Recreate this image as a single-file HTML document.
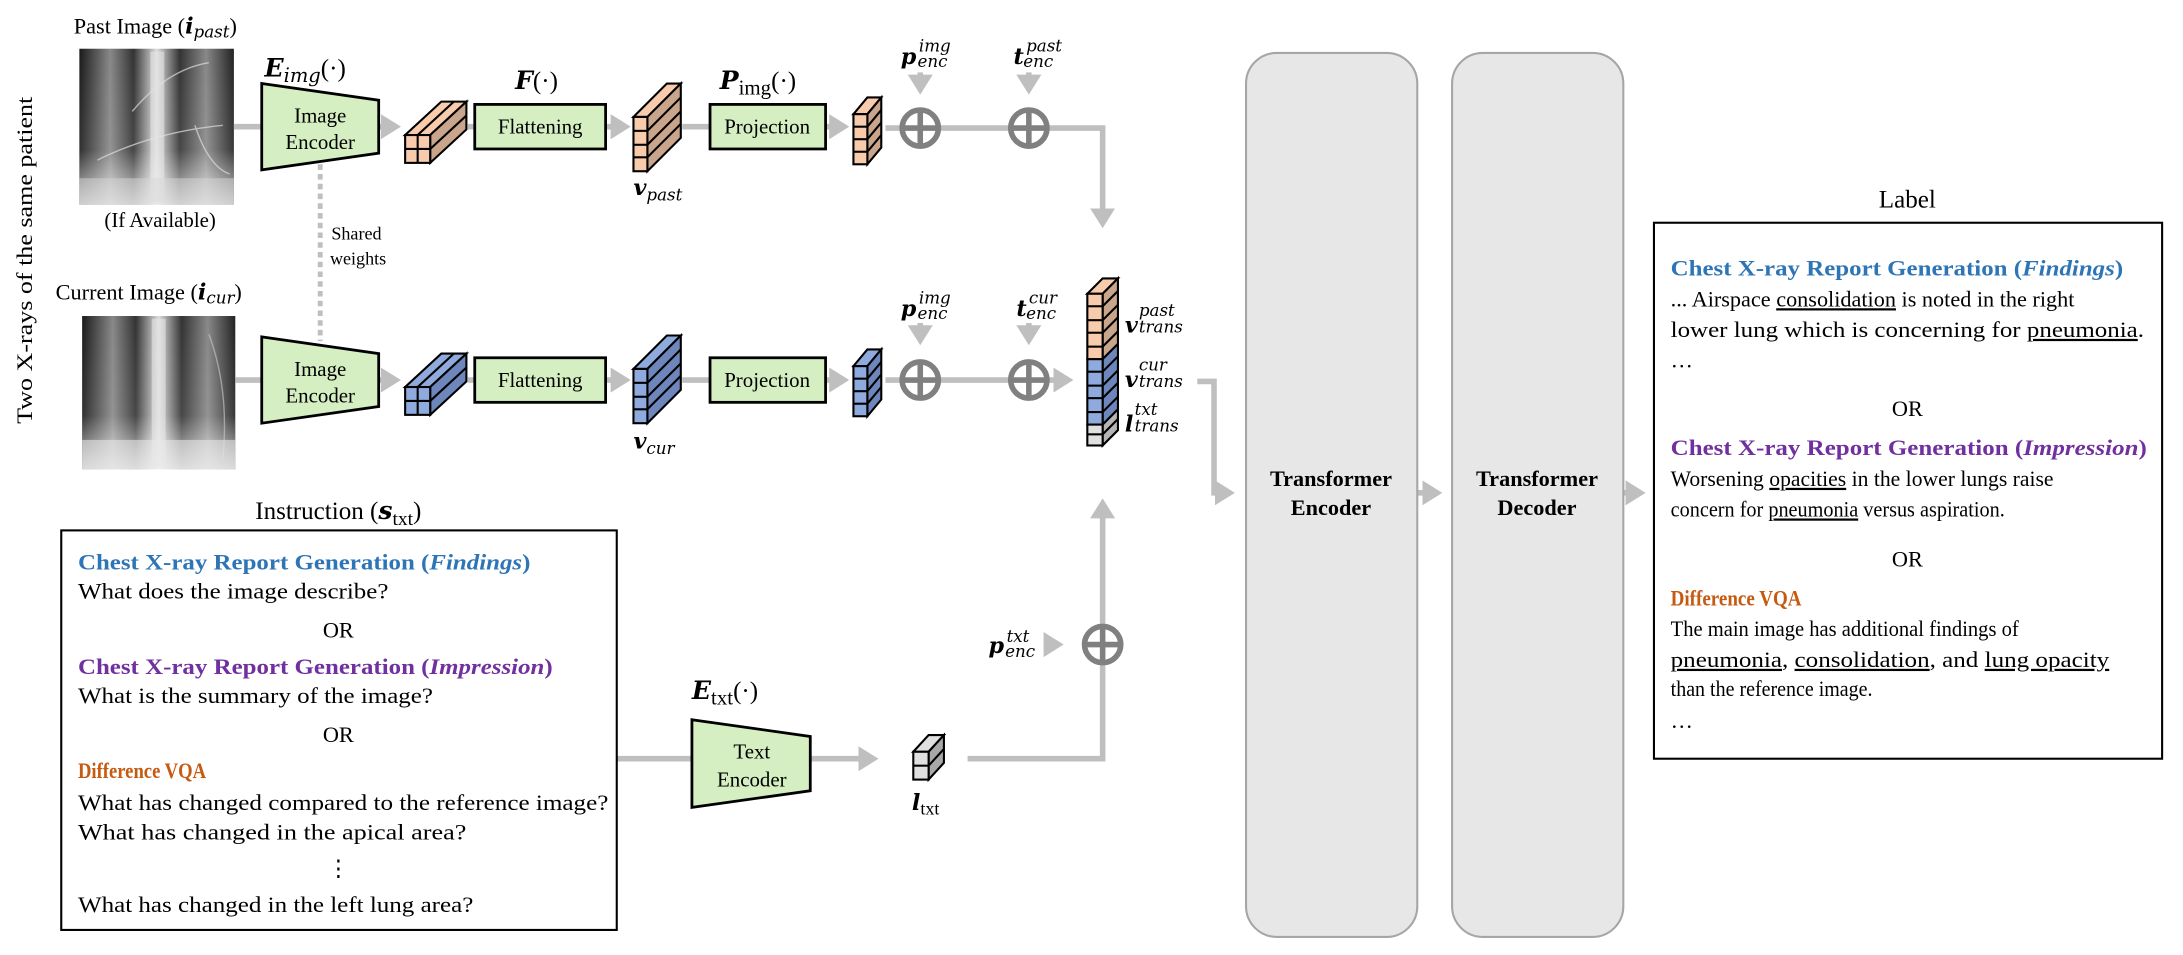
<!DOCTYPE html>
<html><head><meta charset="utf-8">
<style>
html,body{margin:0;padding:0;background:#fff;}
svg{display:block;}
svg, svg text{font-family:"Liberation Serif","Times New Roman","DejaVu Serif",serif;}
svg text.m{font-family:"DejaVu Serif","Liberation Serif",serif;font-style:italic;font-weight:bold;}
svg text.s, svg tspan.s{font-family:"DejaVu Serif","Liberation Serif",serif;font-style:italic;font-weight:normal;}
svg tspan.m{font-family:"DejaVu Serif","Liberation Serif",serif;font-style:italic;font-weight:bold;}
</style></head>
<body>
<svg width="2183" height="955" viewBox="0 0 1568 686" preserveAspectRatio="none" xmlns="http://www.w3.org/2000/svg" font-family="Liberation Serif, Times New Roman, serif">
<defs>
<linearGradient id="xh" x1="0" x2="1" y1="0" y2="0">
<stop offset="0" stop-color="#1a1a1a"/><stop offset="0.2" stop-color="#888"/><stop offset="0.35" stop-color="#333"/>
<stop offset="0.5" stop-color="#ddd"/><stop offset="0.65" stop-color="#333"/><stop offset="0.82" stop-color="#888"/><stop offset="1" stop-color="#222"/>
</linearGradient>
<linearGradient id="xv" x1="0" x2="0" y1="0" y2="1">
<stop offset="0" stop-color="#fff" stop-opacity="0"/><stop offset="0.65" stop-color="#fff" stop-opacity="0.1"/><stop offset="1" stop-color="#fff" stop-opacity="0.75"/>
</linearGradient>
<marker id="ar" markerWidth="5" markerHeight="5" refX="2.6" refY="2.25" orient="auto" markerUnits="strokeWidth">
<path d="M0,0 L3.6,2.25 L0,4.5 z" fill="#bfbfbf"/></marker>
</defs>

<text x="23" y="187" font-size="16" text-anchor="middle" transform="rotate(-90 23 187)" textLength="235" lengthAdjust="spacingAndGlyphs">Two X-rays of the same patient</text>

<text x="53" y="24" font-size="16">Past Image (<tspan class="m">i</tspan><tspan class="s" font-size="12" dy="3">past</tspan><tspan dy="-3">)</tspan></text>
<text x="115" y="163" font-size="15" text-anchor="middle">(If Available)</text>
<text x="40" y="215" font-size="16">Current Image (<tspan class="m">i</tspan><tspan class="s" font-size="12" dy="3">cur</tspan><tspan dy="-3">)</tspan></text>

<rect x="57" y="35" width="111" height="112" fill="url(#xh)"/>
<rect x="57" y="35" width="111" height="112" fill="url(#xv)"/>
<g stroke="#ddd" stroke-width="1" fill="none" opacity="0.7"><path d="M70,115 Q110,95 160,90"/><path d="M95,80 Q120,50 150,45"/><path d="M140,90 Q150,120 165,125"/></g>
<rect x="59" y="227" width="110" height="110" fill="url(#xh)"/>
<rect x="59" y="227" width="110" height="110" fill="url(#xv)"/>
<g stroke="#ccc" stroke-width="1" fill="none" opacity="0.6"><path d="M150,240 Q165,280 160,330"/></g>
<rect x="108" y="37" width="10" height="108" fill="#e6e6e6" opacity="0.6"/>
<rect x="109" y="229" width="10" height="106" fill="#e6e6e6" opacity="0.6"/>
<rect x="57" y="128" width="111" height="19" fill="#d8d8d8" opacity="0.5"/>
<rect x="59" y="316" width="110" height="21" fill="#e8e8e8" opacity="0.6"/>

<g stroke="#bfbfbf" stroke-width="4" fill="none">
<line x1="168" y1="91" x2="188" y2="91"/>
<line x1="272" y1="91" x2="284" y2="91" marker-end="url(#ar)"/>
<line x1="336" y1="91" x2="341" y2="91"/>
<line x1="435" y1="91" x2="449" y2="91" marker-end="url(#ar)"/>
<line x1="490" y1="91" x2="510" y2="91"/>
<line x1="593" y1="91" x2="606" y2="91" marker-end="url(#ar)"/>
<polyline points="636,92 792,92 792,160" marker-end="url(#ar)"/>
<line x1="661" y1="52" x2="661" y2="64" marker-end="url(#ar)"/>
<line x1="739" y1="52" x2="739" y2="64" marker-end="url(#ar)"/>

<line x1="169" y1="273" x2="188" y2="273"/>
<line x1="272" y1="273" x2="284" y2="273" marker-end="url(#ar)"/>
<line x1="336" y1="273" x2="341" y2="273"/>
<line x1="435" y1="273" x2="449" y2="273" marker-end="url(#ar)"/>
<line x1="490" y1="273" x2="510" y2="273"/>
<line x1="593" y1="273" x2="606" y2="273" marker-end="url(#ar)"/>
<line x1="636" y1="273" x2="767" y2="273" marker-end="url(#ar)"/>
<line x1="661" y1="232" x2="661" y2="244" marker-end="url(#ar)"/>
<line x1="739" y1="232" x2="739" y2="244" marker-end="url(#ar)"/>

<polyline points="860,274 872,274 872,354 883,354" marker-end="url(#ar)"/>
<line x1="1018" y1="354" x2="1032" y2="354" marker-end="url(#ar)"/>
<line x1="1166" y1="354" x2="1178" y2="354" marker-end="url(#ar)"/>

<line x1="443" y1="545" x2="497" y2="545"/>
<line x1="582" y1="545" x2="627" y2="545" marker-end="url(#ar)"/>
<polyline points="695,545 792,545 792,362" marker-end="url(#ar)"/>
<line x1="752" y1="463" x2="760" y2="463" marker-end="url(#ar)"/>
</g>
<line x1="230" y1="118" x2="230" y2="245" stroke="#bfbfbf" stroke-width="3.5" stroke-dasharray="4,3"/>
<text x="238" y="172" font-size="13">Shared</text>
<text x="237" y="190" font-size="13">weights</text>

<g stroke="#808080" stroke-width="4" fill="#fff">
<circle cx="661" cy="92" r="13"/><circle cx="739" cy="92" r="13"/>
<circle cx="661" cy="273" r="13"/><circle cx="739" cy="273" r="13"/>
<circle cx="792" cy="463" r="13"/>
</g>
<g stroke="#808080" stroke-width="4">
<line x1="661" y1="79" x2="661" y2="105"/><line x1="648" y1="92" x2="674" y2="92"/>
<line x1="739" y1="79" x2="739" y2="105"/><line x1="726" y1="92" x2="752" y2="92"/>
<line x1="661" y1="260" x2="661" y2="286"/><line x1="648" y1="273" x2="674" y2="273"/>
<line x1="739" y1="260" x2="739" y2="286"/><line x1="726" y1="273" x2="752" y2="273"/>
<line x1="792" y1="450" x2="792" y2="476"/><line x1="779" y1="463" x2="805" y2="463"/>
</g>

<g fill="#d5efc3" stroke="#000" stroke-width="2">
<polygon points="188,60 272,72 272,110 188,122"/>
<polygon points="188,242 272,254 272,292 188,304"/>
<polygon points="497,517 582,529 582,568 497,580"/>
<rect x="341" y="75" width="94" height="32"/>
<rect x="510" y="75" width="83" height="32"/>
<rect x="341" y="257" width="94" height="32"/>
<rect x="510" y="257" width="83" height="32"/>
</g>
<g font-size="15" text-anchor="middle">
<text x="230" y="88">Image</text><text x="230" y="107">Encoder</text>
<text x="230" y="270">Image</text><text x="230" y="289">Encoder</text>
<text x="540" y="545">Text</text><text x="540" y="565">Encoder</text>
<text x="388" y="96">Flattening</text><text x="551" y="96">Projection</text>
<text x="388" y="278">Flattening</text><text x="551" y="278">Projection</text>
</g>

<text x="190" y="55" font-size="18"><tspan class="m">E</tspan><tspan class="s" font-size="14" dy="4">img</tspan><tspan dy="-4">(·)</tspan></text>
<text x="370" y="64" font-size="18"><tspan class="m">F</tspan>(·)</text>
<text x="517" y="64" font-size="18"><tspan class="m">P</tspan><tspan font-size="15" dy="4">img</tspan><tspan dy="-4">(·)</tspan></text>
<text x="455" y="140" font-size="16"><tspan class="m">v</tspan><tspan class="s" font-size="12" dy="4">past</tspan></text>
<text x="455" y="322" font-size="16"><tspan class="m">v</tspan><tspan class="s" font-size="12" dy="4">cur</tspan></text>
<text x="497" y="502" font-size="18"><tspan class="m">E</tspan><tspan font-size="15" dy="4">txt</tspan><tspan dy="-4">(·)</tspan></text>
<text x="655" y="582" font-size="16"><tspan class="m">l</tspan><tspan font-size="13" dy="3">txt</tspan></text>

<g font-size="16">
<text x="647" y="46" class="m">p</text><text x="660" y="37" class="s" font-size="12">img</text><text x="659" y="48" class="s" font-size="12">enc</text>
<text x="728" y="46" class="m">t</text><text x="737" y="37" class="s" font-size="12">past</text><text x="735" y="48" class="s" font-size="12">enc</text>
<text x="647" y="227" class="m">p</text><text x="660" y="218" class="s" font-size="12">img</text><text x="659" y="229" class="s" font-size="12">enc</text>
<text x="730" y="227" class="m">t</text><text x="739" y="218" class="s" font-size="12">cur</text><text x="737" y="229" class="s" font-size="12">enc</text>
<text x="710" y="469" class="m">p</text><text x="723" y="461" class="s" font-size="12">txt</text><text x="722" y="472" class="s" font-size="12">enc</text>
<text x="808" y="239" class="m">v</text><text x="818" y="227" class="s" font-size="12">past</text><text x="818" y="239" class="s" font-size="12">trans</text>
<text x="808" y="278" class="m">v</text><text x="818" y="266" class="s" font-size="12">cur</text><text x="818" y="278" class="s" font-size="12">trans</text>
<text x="808" y="310" class="m">l</text><text x="815" y="298" class="s" font-size="12">txt</text><text x="815" y="310" class="s" font-size="12">trans</text>
</g>

<g stroke="#000" stroke-width="1.5">
<polygon points="291,97 317,73 335,73 309,97" fill="#f8cbad"/>
<polygon points="309,97 335,73 335,93 309,117" fill="#c9a58c"/>
<rect x="291" y="97" width="18" height="20" fill="#f8cbad"/>
<line x1="300" y1="97" x2="300" y2="117"/><line x1="291" y1="107" x2="309" y2="107"/>
<line x1="300" y1="97" x2="326" y2="73"/><line x1="309" y1="107" x2="335" y2="83"/>
<polygon points="291,278 317,254 335,254 309,278" fill="#8faadc"/>
<polygon points="309,278 335,254 335,274 309,298" fill="#6d86bb"/>
<rect x="291" y="278" width="18" height="20" fill="#8faadc"/>
<line x1="300" y1="278" x2="300" y2="298"/><line x1="291" y1="288" x2="309" y2="288"/>
<line x1="300" y1="278" x2="326" y2="254"/><line x1="309" y1="288" x2="335" y2="264"/>

<polygon points="455,84 479,60 489,60 465,84" fill="#f8cbad"/>
<polygon points="465,84 489,60 489,99 465,123" fill="#c9a58c"/>
<rect x="455" y="84" width="10" height="39" fill="#f8cbad"/>
<line x1="455" y1="94" x2="465" y2="94"/><line x1="455" y1="104" x2="465" y2="104"/><line x1="455" y1="113" x2="465" y2="113"/>
<line x1="465" y1="94" x2="489" y2="70"/><line x1="465" y1="104" x2="489" y2="80"/><line x1="465" y1="113" x2="489" y2="89"/>
<polygon points="455,265 479,241 489,241 465,265" fill="#8faadc"/>
<polygon points="465,265 489,241 489,280 465,304" fill="#6d86bb"/>
<rect x="455" y="265" width="10" height="39" fill="#8faadc"/>
<line x1="455" y1="275" x2="465" y2="275"/><line x1="455" y1="285" x2="465" y2="285"/><line x1="455" y1="294" x2="465" y2="294"/>
<line x1="465" y1="275" x2="489" y2="251"/><line x1="465" y1="285" x2="489" y2="261"/><line x1="465" y1="294" x2="489" y2="270"/>

<polygon points="613,82 623,70 633,70 623,82" fill="#f8cbad"/>
<polygon points="623,82 633,70 633,106 623,118" fill="#c9a58c"/>
<rect x="613" y="82" width="10" height="36" fill="#f8cbad"/>
<line x1="613" y1="91" x2="623" y2="91"/><line x1="613" y1="100" x2="623" y2="100"/><line x1="613" y1="109" x2="623" y2="109"/>
<line x1="623" y1="91" x2="633" y2="79"/><line x1="623" y1="100" x2="633" y2="88"/><line x1="623" y1="109" x2="633" y2="97"/>
<polygon points="613,263 623,251 633,251 623,263" fill="#8faadc"/>
<polygon points="623,263 633,251 633,287 623,299" fill="#6d86bb"/>
<rect x="613" y="263" width="10" height="36" fill="#8faadc"/>
<line x1="613" y1="272" x2="623" y2="272"/><line x1="613" y1="281" x2="623" y2="281"/><line x1="613" y1="290" x2="623" y2="290"/>
<line x1="623" y1="272" x2="633" y2="260"/><line x1="623" y1="281" x2="633" y2="269"/><line x1="623" y1="290" x2="633" y2="278"/>

<polygon points="781,211 792,200 803,200 792,211" fill="#f8cbad"/>
<polygon points="792,211 803,200 803,247 792,258" fill="#c9a58c"/>
<polygon points="792,258 803,247 803,294 792,305" fill="#6d86bb"/>
<polygon points="792,305 803,294 803,309 792,320" fill="#b5b5b5"/>
<rect x="781" y="211" width="11" height="47" fill="#f8cbad"/>
<rect x="781" y="258" width="11" height="47" fill="#8faadc"/>
<rect x="781" y="305" width="11" height="15" fill="#e0e0e0"/>
<g>
<line x1="781" y1="220" x2="792" y2="220"/><line x1="781" y1="230" x2="792" y2="230"/><line x1="781" y1="239" x2="792" y2="239"/><line x1="781" y1="249" x2="792" y2="249"/>
<line x1="781" y1="267" x2="792" y2="267"/><line x1="781" y1="277" x2="792" y2="277"/><line x1="781" y1="286" x2="792" y2="286"/><line x1="781" y1="296" x2="792" y2="296"/>
<line x1="781" y1="312" x2="792" y2="312"/>
<line x1="792" y1="220" x2="803" y2="209"/><line x1="792" y1="230" x2="803" y2="219"/><line x1="792" y1="239" x2="803" y2="228"/><line x1="792" y1="249" x2="803" y2="238"/>
<line x1="792" y1="267" x2="803" y2="256"/><line x1="792" y1="277" x2="803" y2="266"/><line x1="792" y1="286" x2="803" y2="275"/><line x1="792" y1="296" x2="803" y2="285"/>
<line x1="792" y1="312" x2="803" y2="301"/>
</g>

<polygon points="656,540 667,528 678,528 667,540" fill="#e0e0e0"/>
<polygon points="667,540 678,528 678,548 667,560" fill="#a8a8a8"/>
<rect x="656" y="540" width="11" height="20" fill="#e0e0e0"/>
<line x1="656" y1="550" x2="667" y2="550"/><line x1="667" y1="550" x2="678" y2="538"/>
</g>

<rect x="895" y="38" width="123" height="635" rx="22" fill="#e7e7e7" stroke="#a6a6a6" stroke-width="1.5"/>
<rect x="1043" y="38" width="123" height="635" rx="22" fill="#e7e7e7" stroke="#a6a6a6" stroke-width="1.5"/>
<g font-size="16" font-weight="bold" text-anchor="middle">
<text x="956" y="349">Transformer</text><text x="956" y="370">Encoder</text>
<text x="1104" y="349">Transformer</text><text x="1104" y="370">Decoder</text>
</g>

<text x="1370" y="149" font-size="18" text-anchor="middle">Label</text>
<rect x="1188" y="160" width="365" height="385" fill="#fff" stroke="#000" stroke-width="1.5"/>
<g font-size="16" lengthAdjust="spacingAndGlyphs">
<text x="1200" y="198" font-weight="bold" fill="#2e75b6" textLength="325" lengthAdjust="spacingAndGlyphs">Chest X-ray Report Generation (<tspan font-style="italic">Findings</tspan>)</text>
<text x="1200" y="220" textLength="290" lengthAdjust="spacingAndGlyphs">... Airspace <tspan text-decoration="underline">consolidation</tspan> is noted in the right</text>
<text x="1200" y="242" textLength="340" lengthAdjust="spacingAndGlyphs">lower lung which is concerning for <tspan text-decoration="underline">pneumonia</tspan>.</text>
<text x="1200" y="264">…</text>
<text x="1370" y="299" text-anchor="middle">OR</text>
<text x="1200" y="327" font-weight="bold" fill="#7030a0" textLength="342" lengthAdjust="spacingAndGlyphs">Chest X-ray Report Generation (<tspan font-style="italic">Impression</tspan>)</text>
<text x="1200" y="349" textLength="275" lengthAdjust="spacingAndGlyphs">Worsening <tspan text-decoration="underline">opacities</tspan> in the lower lungs raise</text>
<text x="1200" y="371" textLength="240" lengthAdjust="spacingAndGlyphs">concern for <tspan text-decoration="underline">pneumonia</tspan> versus aspiration.</text>
<text x="1370" y="407" text-anchor="middle">OR</text>
<text x="1200" y="435" font-weight="bold" fill="#c55a11" textLength="94" lengthAdjust="spacingAndGlyphs">Difference VQA</text>
<text x="1200" y="457" textLength="250" lengthAdjust="spacingAndGlyphs">The main image has additional findings of</text>
<text x="1200" y="479" textLength="315" lengthAdjust="spacingAndGlyphs"><tspan text-decoration="underline">pneumonia</tspan>, <tspan text-decoration="underline">consolidation</tspan>, and <tspan text-decoration="underline">lung opacity</tspan></text>
<text x="1200" y="500" textLength="145" lengthAdjust="spacingAndGlyphs">than the reference image.</text>
<text x="1200" y="523">…</text>
</g>

<text x="243" y="373" font-size="18" text-anchor="middle">Instruction (<tspan class="m">s</tspan><tspan font-size="14" dy="4">txt</tspan><tspan dy="-4">)</tspan></text>
<rect x="44" y="381" width="399" height="287" fill="#fff" stroke="#000" stroke-width="1.5"/>
<g font-size="16">
<text x="56" y="409" font-weight="bold" fill="#2e75b6" textLength="325" lengthAdjust="spacingAndGlyphs">Chest X-ray Report Generation (<tspan font-style="italic">Findings</tspan>)</text>
<text x="56" y="430" textLength="223" lengthAdjust="spacingAndGlyphs">What does the image describe?</text>
<text x="243" y="458" text-anchor="middle">OR</text>
<text x="56" y="484" font-weight="bold" fill="#7030a0" textLength="341" lengthAdjust="spacingAndGlyphs">Chest X-ray Report Generation (<tspan font-style="italic">Impression</tspan>)</text>
<text x="56" y="505" textLength="255" lengthAdjust="spacingAndGlyphs">What is the summary of the image?</text>
<text x="243" y="533" text-anchor="middle">OR</text>
<text x="56" y="559" font-weight="bold" fill="#c55a11" textLength="92" lengthAdjust="spacingAndGlyphs">Difference VQA</text>
<text x="56" y="582" textLength="381" lengthAdjust="spacingAndGlyphs">What has changed compared to the reference image?</text>
<text x="56" y="603" textLength="279" lengthAdjust="spacingAndGlyphs">What has changed in the apical area?</text>
<text x="243" y="629" text-anchor="middle">⋮</text>
<text x="56" y="655" textLength="284" lengthAdjust="spacingAndGlyphs">What has changed in the left lung area?</text>
</g>
</svg>
</body></html>
